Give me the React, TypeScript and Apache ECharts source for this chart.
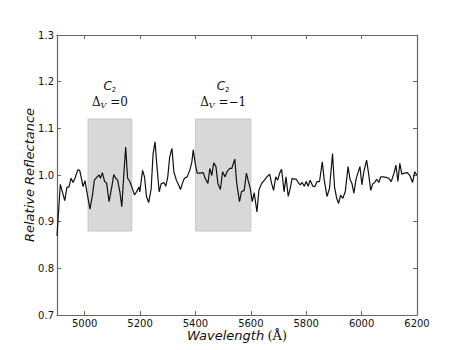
import React, { useEffect, useRef } from "react";
import * as echarts from "echarts";

const wavelength = [
  4900, 4912, 4928, 4936, 4943, 4951, 4958, 4965, 4975, 4982, 4989, 4994, 5001, 5008, 5019, 5028, 5035, 5045,
  5052, 5057, 5064, 5072, 5079, 5088, 5098, 5105, 5112, 5119, 5127, 5134, 5141, 5148, 5155, 5163, 5170, 5180,
  5189, 5196, 5199, 5209, 5216, 5223, 5231, 5240, 5247, 5254, 5261, 5269, 5276, 5286, 5293, 5300, 5307, 5315,
  5322, 5331, 5339, 5346, 5353, 5360, 5370, 5380, 5387, 5392, 5399, 5406, 5416, 5428, 5435, 5445, 5452, 5459,
  5466, 5474, 5481, 5490, 5498, 5507, 5514, 5524, 5531, 5542, 5549, 5559, 5566, 5576, 5584, 5590, 5598, 5605,
  5612, 5622, 5629, 5639, 5649, 5658, 5668, 5675, 5682, 5690, 5697, 5704, 5711, 5720, 5727, 5735, 5742, 5749,
  5756, 5764, 5771, 5778, 5785, 5793, 5800, 5807, 5814, 5824, 5831, 5839, 5848, 5858, 5865, 5875, 5884, 5895,
  5902, 5910, 5917, 5924, 5932, 5941, 5951, 5958, 5965, 5972, 5980, 5987, 5994, 6001, 6008, 6018, 6025, 6033,
  6040, 6047, 6054, 6062, 6069, 6078, 6088, 6098, 6107, 6117, 6124, 6131, 6138, 6145, 6155, 6165, 6175, 6184,
  6192, 6199,
];

const reflectance = [
  0.87, 0.98, 0.945, 0.974, 0.974, 0.993, 0.984, 0.993, 1.011, 1.01, 0.99, 0.975, 0.988, 0.964, 0.927, 0.957, 0.989, 0.996,
  1.0, 0.993, 1.005, 0.986, 0.983, 0.943, 0.975, 1.001, 0.993, 0.989, 0.964, 0.932, 0.998, 1.06, 0.993, 0.986, 0.975, 0.957,
  0.966, 0.974, 0.964, 1.01, 0.996, 0.954, 0.941, 0.97, 1.046, 1.071, 1.018, 0.964, 0.981, 0.984, 0.976, 0.996, 1.039, 1.057,
  1.007, 0.989, 0.979, 0.969, 0.982, 0.993, 0.996, 1.011, 1.028, 1.054, 1.025, 1.004, 1.004, 1.005, 0.993, 0.982, 1.014, 0.999,
  1.026, 1.018, 0.982, 0.969, 1.007, 0.996, 1.007, 1.014, 1.014, 1.034, 0.982, 0.943, 0.964, 0.967, 1.004, 0.989, 0.971, 0.943,
  0.962, 0.921, 0.967, 0.982, 0.989, 0.996, 1.002, 0.982, 0.967, 0.996, 0.989, 1.004, 1.012, 0.964, 0.996, 0.954, 0.971, 0.993,
  0.991, 0.991, 0.984, 0.979, 0.984, 0.976, 0.986, 0.976, 0.989, 0.976, 0.975, 0.986, 0.986, 1.028, 0.989, 0.954, 0.971, 1.046,
  0.975, 0.95, 0.939, 0.957, 0.95, 0.964, 1.018, 0.991, 0.982, 0.961, 0.991, 1.005, 1.018, 0.979, 1.007, 1.032, 1.004, 0.967,
  0.981, 0.984, 0.991, 0.984, 0.996, 0.996, 0.995, 0.993, 0.986, 1.004, 1.021, 0.986, 1.025, 1.002, 1.004, 1.005, 0.998, 0.984,
  1.007, 1.0,
];

const xTicks = [5000, 5200, 5400, 5600, 5800, 6000, 6200];
const bands = [
  { from: 5012, to: 5170, low: 0.88, high: 1.12, dv: "=0" },
  { from: 5400, to: 5600, low: 0.88, high: 1.12, dv: "=\u22121" },
];

export default function App() {
  const ref = useRef<HTMLDivElement>(null);
  useEffect(() => {
    document.body.style.margin = "0";
    const chart = echarts.init(ref.current!, null, { renderer: "svg" });
    const axisColor = "#666";
    const tickFont = { fontFamily: "DejaVu Sans", fontSize: 10, color: "#111", lineHeight: 10 };
    const rich = {
      c: { fontFamily: "DejaVu Sans", fontStyle: "italic", fontSize: 12, color: "#111", lineHeight: 16 },
      s: { fontFamily: "DejaVu Sans", fontSize: 7, color: "#111", verticalAlign: "bottom", lineHeight: 12, padding: [6, 0, 0, 0] },
      d: { fontFamily: "DejaVu Serif", fontSize: 12, color: "#111", lineHeight: 16 },
      v: { fontFamily: "DejaVu Serif", fontStyle: "italic", fontSize: 8, color: "#111", verticalAlign: "bottom", lineHeight: 12, padding: [6, 0, 0, 0] },
    };
    chart.setOption({
      animation: false,
      grid: { left: 57, right: 46, top: 35, bottom: 35, show: false },
      xAxis: [
        {
          type: "value",
          min: 4900,
          max: 6200,
          axisLine: { show: true, lineStyle: { color: axisColor, width: 1.2 } },
          axisTick: { show: true, inside: true, length: 4, customValues: xTicks, lineStyle: { color: axisColor } },
          axisLabel: { ...tickFont, margin: 3, customValues: xTicks, formatter: (v: number) => String(v) },
          splitLine: { show: false },
          name: "{i|Wavelength} {r|(\u00c5)}",
          nameLocation: "middle",
          nameGap: 14,
          nameMoveOverlap: false,
          nameTextStyle: {
            rich: {
              i: { fontFamily: "DejaVu Sans", fontStyle: "italic", fontSize: 13, color: "#111", lineHeight: 13 },
              r: { fontFamily: "DejaVu Serif", fontSize: 13, color: "#111", lineHeight: 13 },
            },
          },
        },
        {
          type: "value",
          min: 4900,
          max: 6200,
          position: "top",
          axisLine: { show: true, onZero: false, lineStyle: { color: axisColor, width: 1.2 } },
          axisTick: { show: true, inside: true, length: 4, customValues: xTicks, lineStyle: { color: axisColor } },
          axisLabel: { show: false },
          splitLine: { show: false },
        },
      ],
      yAxis: [
        {
          type: "value",
          min: 0.7,
          max: 1.3,
          interval: 0.1,
          axisLine: { show: true, onZero: false, lineStyle: { color: axisColor, width: 1.2 } },
          axisTick: { show: true, inside: true, length: 4, lineStyle: { color: axisColor } },
          axisLabel: { ...tickFont, margin: 3, formatter: (v: number) => v.toFixed(1) },
          splitLine: { show: false },
          name: "Relative Reflectance",
          nameLocation: "middle",
          nameGap: 21,
          nameMoveOverlap: false,
          nameTextStyle: { fontFamily: "DejaVu Sans", fontStyle: "italic", fontSize: 13, color: "#111" },
        },
        {
          type: "value",
          min: 0.7,
          max: 1.3,
          interval: 0.1,
          position: "right",
          axisLine: { show: true, onZero: false, lineStyle: { color: axisColor, width: 1.2 } },
          axisTick: { show: true, inside: true, length: 4, lineStyle: { color: axisColor } },
          axisLabel: { show: false },
          splitLine: { show: false },
        },
      ],
      series: [
        {
          type: "line",
          data: wavelength.map((w, i) => [w, reflectance[i]]),
          showSymbol: false,
          symbol: "none",
          lineStyle: { color: "#111", width: 1.2 },
          z: 3,
          markArea: {
            silent: true,
            itemStyle: { color: "#d8d8d8", borderColor: "#c8c8c8", borderWidth: 1 },
            label: {
              show: true,
              position: "top",
              distance: 9,
              rich,
            },
            data: bands.map((b) => [
              {
                xAxis: b.from,
                yAxis: b.high,
                label: { formatter: `{c|C}{s|2}\n{d|\u0394}{v|V}{d| ${b.dv}}` },
              },
              { xAxis: b.to, yAxis: b.low },
            ]),
          },
        },
      ],
    });
    return () => chart.dispose();
  }, []);
  return <div ref={ref} style={{ width: 463, height: 350 }} />;
}
